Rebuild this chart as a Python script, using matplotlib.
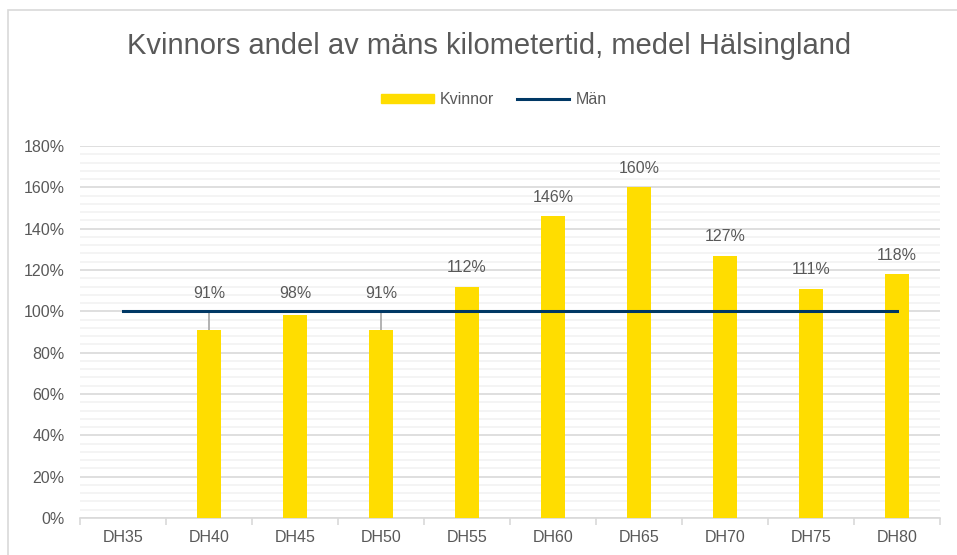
import matplotlib.pyplot as plt
import numpy as np
from matplotlib.lines import Line2D
from matplotlib.patches import Patch, Rectangle

plt.rcParams["font.family"] = ["Liberation Sans", "DejaVu Sans"]

CATEGORIES = ["DH35", "DH40", "DH45", "DH50", "DH55", "DH60", "DH65", "DH70", "DH75", "DH80"]
KVINNOR = [np.nan, 91, 98, 91, 112, 146, 160, 127, 111, 118]
MAN = [100, 100, 100, 100, 100, 100, 100, 100, 100, 100]
LABELS = ["", "91%", "98%", "91%", "112%", "146%", "160%", "127%", "111%", "118%"]

GOLD = "#FFDD00"
NAVY = "#003865"
TEXT = "#595959"

fig = plt.figure(figsize=(9.57, 5.55), dpi=100)
fig.patches.append(Rectangle((8 / 957, -0.05), 1.2, 1 - 10 / 555 + 0.05, transform=fig.transFigure,
                             fill=False, edgecolor="#D9D9D9", linewidth=1.2))
ax = fig.add_axes([80 / 957, 37 / 555, 860 / 957, 372 / 555])
x = np.arange(len(CATEGORIES))

ax.bar(x, KVINNOR, width=0.27, color=GOLD, zorder=3)
ax.plot(x, MAN, color=NAVY, linewidth=2.2, zorder=4)

# data labels, pushed above the Män line with leader lines where needed
for i, (v, lab) in enumerate(zip(KVINNOR, LABELS)):
    if np.isnan(v):
        continue
    y = v + 9 if v >= 104 else 108.5
    ax.text(i, y, lab, ha="center", va="center", fontsize=11.5, color=TEXT, zorder=5)
    if y - v > 12:
        ax.plot([i, i], [100, v], color="#A6A6A6", linewidth=1.2, zorder=2)

ax.set_xlim(-0.5, len(CATEGORIES) - 0.5)
ax.set_ylim(0, 180)
ax.set_yticks(np.arange(0, 181, 20))
ax.set_yticklabels([f"{v}%" for v in range(0, 181, 20)])
ax.set_yticks(np.arange(0, 181, 4), minor=True)
ax.grid(axis="y", which="major", color="#D9D9D9", linewidth=1.2, zorder=0)
ax.grid(axis="y", which="minor", color="#F2F2F2", linewidth=1.2, zorder=0)
ax.set_xticks(x)
ax.set_xticklabels(CATEGORIES)
ax.set_xticks(np.arange(-0.5, len(CATEGORIES)), minor=True)
ax.tick_params(axis="x", which="major", length=0, pad=9, labelsize=11.5, labelcolor=TEXT)
ax.tick_params(axis="x", which="minor", length=5, color="#D9D9D9", width=1.2)
ax.tick_params(axis="y", which="both", length=0, pad=11, labelsize=11.5, labelcolor=TEXT)
for side in ["top", "right", "left"]:
    ax.spines[side].set_visible(False)
ax.spines["bottom"].set_color("#D9D9D9")
ax.spines["bottom"].set_linewidth(1.2)

fig.text(0.511, 1 - 46 / 555, "Kvinnors andel av mäns kilometertid, medel Hälsingland",
         ha="center", va="center", fontsize=21, color=TEXT)

handles = [Patch(color=GOLD), Line2D([], [], color=NAVY, linewidth=2.2)]
fig.legend(handles, ["Kvinnor", "Män"], loc="center", bbox_to_anchor=(494 / 957, 1 - 100 / 555),
           ncol=2, frameon=False, fontsize=11.5, labelcolor=TEXT, handlelength=3.3, handleheight=0.5,
           handletextpad=0.4, columnspacing=1.4)

fig.savefig("out.png", dpi=100)
